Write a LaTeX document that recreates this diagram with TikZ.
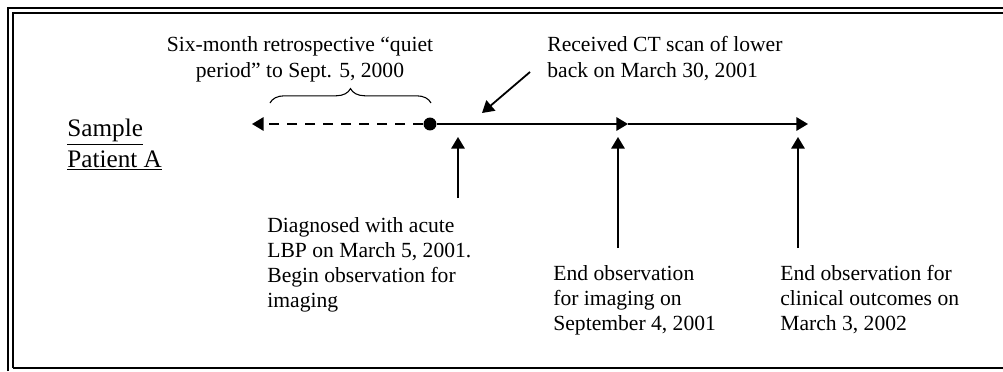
\documentclass[tikz,border=0pt]{standalone}
\usepackage{fontspec}
\setmainfont{Liberation Serif}
\usetikzlibrary{arrows.meta, decorations.pathreplacing}
\tikzset{
  tip/.style={-{Triangle[length=6.5pt,width=7.5pt]}, line width=1pt},
  note/.style={anchor=base west, align=left, inner sep=0pt, font=\fontsize{12}{13.8}\selectfont},
}
\begin{document}
\begin{tikzpicture}[x=0.5556pt, y=-0.5556pt]
    \useasboundingbox (0,0) rectangle (1003,371);
    % Frame
    \draw[line width=0.8pt] (8,371) -- (8,8) -- (1003,8);
    \draw[line width=1.2pt] (13,368) -- (13,13) -- (1003,13);
    \draw[line width=1.2pt] (13,368) -- (1003,368);
    % Patient label (anchored at the last baseline)
    \node[anchor=base west, align=left, inner sep=0pt, font=\fontsize{14}{16.7}\selectfont] (patient) at (67,167)
        {\underline{Sample}\\\underline{Patient A}};
    % Timeline
    \coordinate (quiet) at (252,124);
    \node[circle, fill, inner sep=0pt, minimum size=7.2pt] (onset) at (430,124) {};
    \coordinate (imgend) at (628,124);
    \coordinate (clinend) at (808,124);
    \draw[tip, dash pattern=on 5.5pt off 4.5pt] (onset) -- (quiet);
    \draw[tip] (onset) -- (imgend);
    \draw[tip] (imgend) -- (clinend);
    % Quiet period
    \draw[decorate, decoration={brace, amplitude=8pt}, line width=0.6pt] (270,103) -- (431,103);
    \node[anchor=base, align=center, inner sep=0pt, font=\fontsize{12}{13.9}\selectfont] (quiettext) at (300,77)
        {Six-month retrospective “quiet\\period” to Sept. 5, 2000};
    % CT scan
    \node[note, font=\fontsize{12}{13.9}\selectfont] (cttext) at (547,77) {Received CT scan of lower\\back on March 30, 2001};
    \coordinate (ctfrom) at (530,72);
    \coordinate (ctto) at (482,113);
    \draw[tip] (ctfrom) -- (ctto);
    % Events
    \coordinate (diagfoot) at (458,198);
    \coordinate (diagtop) at (458,137);
    \draw[tip] (diagfoot) -- (diagtop);
    \node[note] (diagtext) at (267,307)
        {Diagnosed with acute\\LBP on March 5, 2001.\\Begin observation for\\imaging};
    \coordinate (imgfoot) at (618,248);
    \coordinate (imgtop) at (618,137);
    \draw[tip] (imgfoot) -- (imgtop);
    \node[note] (imgtext) at (553,330)
        {End observation\\for imaging on\\September 4, 2001};
    \coordinate (clinfoot) at (798,248);
    \coordinate (clintop) at (798,137);
    \draw[tip] (clinfoot) -- (clintop);
    \node[note] (clintext) at (780,330)
        {End observation for\\clinical outcomes on\\March 3, 2002};
\end{tikzpicture}
\end{document}
